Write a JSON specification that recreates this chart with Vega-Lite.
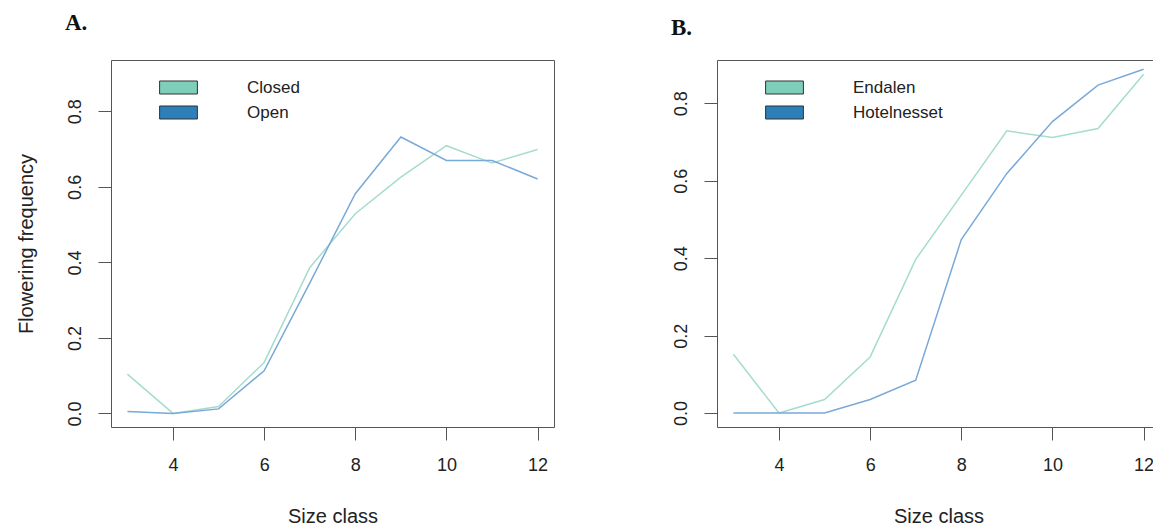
{
  "$schema": "https://vega.github.io/schema/vega-lite/v6.json",
  "background": "white",
  "padding": {"left": 16, "top": 11, "right": 0, "bottom": 0},
  "spacing": 115,
  "config": {
    "font": "Liberation Sans",
    "view": {"stroke": "#555555", "strokeWidth": 1},
    "axis": {
      "grid": false,
      "domain": false,
      "tickColor": "#555555",
      "tickSize": 13,
      "tickWidth": 1,
      "labelFont": "Liberation Sans",
      "labelFontSize": 18,
      "labelColor": "#222222",
      "labelFlush": false,
      "titleFont": "Liberation Sans",
      "titleFontSize": 20,
      "titleFontWeight": "normal",
      "titleColor": "#222222"
    },
    "title": {
      "font": "Liberation Serif",
      "fontWeight": "bold",
      "fontSize": 23,
      "anchor": "start",
      "frame": "group",
      "color": "#111111",
      "baseline": "alphabetic",
      "offset": 27,
      "dx": -46
    },
    "legend": {
      "orient": "none",
      "title": null,
      "padding": 0,
      "labelFont": "Liberation Sans",
      "labelFontSize": 17,
      "labelColor": "#222222",
      "symbolStrokeColor": "#333333",
      "symbolStrokeWidth": 1,
      "symbolOpacity": 1,
      "labelOffset": 60,
      "rowPadding": 6,
      "legendX": 59,
      "legendY": 19
    }
  },
  "resolve": {
    "scale": {"fill": "independent", "stroke": "independent"},
    "legend": {"fill": "independent", "stroke": "independent"}
  },
  "hconcat": [
    {
      "width": 443,
      "height": 367,
      "title": {"text": "A.", "dy": 2},
      "data": {"values": [
        {"group": "Closed", "size": 3, "freq": 0.104},
        {"group": "Closed", "size": 4, "freq": 0.0},
        {"group": "Closed", "size": 5, "freq": 0.018},
        {"group": "Closed", "size": 6, "freq": 0.135},
        {"group": "Closed", "size": 7, "freq": 0.386},
        {"group": "Closed", "size": 8, "freq": 0.529},
        {"group": "Closed", "size": 9, "freq": 0.626},
        {"group": "Closed", "size": 10, "freq": 0.709},
        {"group": "Closed", "size": 11, "freq": 0.663},
        {"group": "Closed", "size": 12, "freq": 0.699},
        {"group": "Open", "size": 3, "freq": 0.005},
        {"group": "Open", "size": 4, "freq": 0.0},
        {"group": "Open", "size": 5, "freq": 0.012},
        {"group": "Open", "size": 6, "freq": 0.113},
        {"group": "Open", "size": 7, "freq": 0.345},
        {"group": "Open", "size": 8, "freq": 0.582},
        {"group": "Open", "size": 9, "freq": 0.732},
        {"group": "Open", "size": 10, "freq": 0.67},
        {"group": "Open", "size": 11, "freq": 0.67},
        {"group": "Open", "size": 12, "freq": 0.621}
      ]},
      "encoding": {
        "x": {
          "field": "size", "type": "quantitative",
          "scale": {"domain": [2.64, 12.36], "nice": false, "zero": false},
          "axis": {"values": [4, 6, 8, 10, 12], "title": "Size class", "labelPadding": 16, "titlePadding": 32}
        },
        "y": {
          "field": "freq", "type": "quantitative",
          "scale": {"domain": [-0.036, 0.936], "nice": false, "zero": false},
          "axis": {"values": [0, 0.2, 0.4, 0.6, 0.8], "format": ".1f", "labelAngle": -90, "labelAlign": "center", "labelBaseline": "alphabetic", "labelPadding": 17.5, "title": "Flowering frequency", "titlePadding": 30}
        }
      },
      "layer": [
        {
          "mark": {"type": "line", "strokeWidth": 1.5, "clip": true},
          "encoding": {
            "stroke": {
              "field": "group", "type": "nominal",
              "scale": {"domain": ["Open", "Closed"], "range": ["#79a9d8", "#a6dccf"]},
              "legend": null
            }
          }
        },
        {
          "mark": {"type": "point", "filled": true, "opacity": 0},
          "encoding": {
            "fill": {
              "field": "group", "type": "nominal",
              "scale": {"domain": ["Closed", "Open"], "range": ["#7fcdbb", "#2c7fb8"]},
              "legend": {"symbolType": "M-2.7,-0.93H2.7V0.93H-2.7Z", "symbolSize": 196, "symbolOpacity": 1, "symbolStrokeColor": "#333333", "symbolStrokeWidth": 1}
            }
          }
        }
      ]
    },
    {
      "width": 443,
      "height": 367,
      "title": {"text": "B.", "dy": 7},
      "data": {"values": [
        {"group": "Endalen", "size": 3, "freq": 0.152},
        {"group": "Endalen", "size": 4, "freq": 0.0},
        {"group": "Endalen", "size": 5, "freq": 0.035},
        {"group": "Endalen", "size": 6, "freq": 0.145},
        {"group": "Endalen", "size": 7, "freq": 0.397},
        {"group": "Endalen", "size": 8, "freq": 0.563},
        {"group": "Endalen", "size": 9, "freq": 0.729},
        {"group": "Endalen", "size": 10, "freq": 0.712},
        {"group": "Endalen", "size": 11, "freq": 0.735},
        {"group": "Endalen", "size": 12, "freq": 0.875},
        {"group": "Hotelnesset", "size": 3, "freq": 0.0},
        {"group": "Hotelnesset", "size": 4, "freq": 0.0},
        {"group": "Hotelnesset", "size": 5, "freq": 0.0},
        {"group": "Hotelnesset", "size": 6, "freq": 0.035},
        {"group": "Hotelnesset", "size": 7, "freq": 0.085},
        {"group": "Hotelnesset", "size": 8, "freq": 0.448},
        {"group": "Hotelnesset", "size": 9, "freq": 0.619},
        {"group": "Hotelnesset", "size": 10, "freq": 0.753},
        {"group": "Hotelnesset", "size": 11, "freq": 0.847},
        {"group": "Hotelnesset", "size": 12, "freq": 0.888}
      ]},
      "encoding": {
        "x": {
          "field": "size", "type": "quantitative",
          "scale": {"domain": [2.64, 12.36], "nice": false, "zero": false},
          "axis": {"values": [4, 6, 8, 10, 12], "title": "Size class", "labelPadding": 16, "titlePadding": 32}
        },
        "y": {
          "field": "freq", "type": "quantitative",
          "scale": {"domain": [-0.036, 0.912], "nice": false, "zero": false},
          "axis": {"values": [0, 0.2, 0.4, 0.6, 0.8], "format": ".1f", "labelAngle": -90, "labelAlign": "center", "labelBaseline": "alphabetic", "labelPadding": 17.5, "title": null}
        }
      },
      "layer": [
        {
          "mark": {"type": "line", "strokeWidth": 1.5, "clip": true},
          "encoding": {
            "stroke": {
              "field": "group", "type": "nominal",
              "scale": {"domain": ["Hotelnesset", "Endalen"], "range": ["#79a9d8", "#a6dccf"]},
              "legend": null
            }
          }
        },
        {
          "mark": {"type": "point", "filled": true, "opacity": 0},
          "encoding": {
            "fill": {
              "field": "group", "type": "nominal",
              "scale": {"domain": ["Endalen", "Hotelnesset"], "range": ["#7fcdbb", "#2c7fb8"]},
              "legend": {"symbolType": "M-2.7,-0.93H2.7V0.93H-2.7Z", "symbolSize": 196, "symbolOpacity": 1, "symbolStrokeColor": "#333333", "symbolStrokeWidth": 1}
            }
          }
        }
      ]
    }
  ]
}
